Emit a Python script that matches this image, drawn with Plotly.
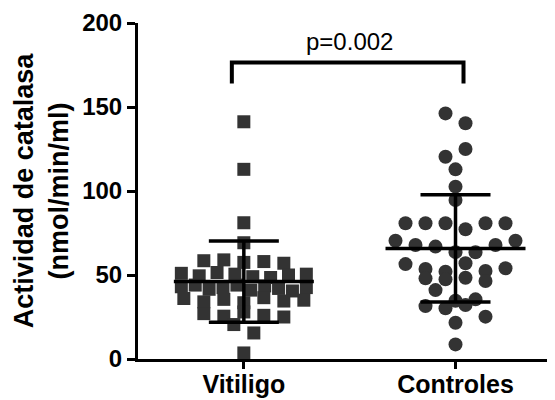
import plotly.graph_objects as go

# ---------------- data ----------------
categories = ["Vitiligo", "Controles"]

vitiligo = [141.2, 112.9, 81.1, 69.2,
            58.5, 59.0, 57.5, 58.0, 57.0,
            51.0, 49.5, 51.5, 50.5, 49.0, 48.5, 50.0, 50.5,
            43.0, 44.0, 41.5, 42.5, 44.0, 41.0, 43.5, 42.0, 40.5, 42.5,
            36.0, 34.0, 35.5, 33.5, 36.5, 34.5, 35.0,
            27.0, 25.5, 28.0, 26.0, 25.0,
            20.5, 15.5, 3.6]

controles = [146.2, 140.3, 120.4, 125.0, 112.9, 102.6, 94.6,
             80.8, 80.8, 80.8, 77.2, 80.8, 80.8,
             70.4, 67.9, 66.9, 63.6, 63.5, 67.9, 70.4,
             56.5, 53.6, 52.0, 57.0, 52.4, 54.0,
             48.0, 47.4, 48.4, 46.4,
             41.0,
             31.5, 34.7, 35.5, 30.2, 32.1,
             25.2, 21.6, 8.7]

group_means = [46.1, 65.8]
group_sds = [24.2, 31.9]

y_tickvals = [0, 50, 100, 150, 200]
p_text = "p=0.002"
bracket_high = 176.5
bracket_low = 164.0

# ---------------- layout / style constants ----------------
# the page body has an 8px default margin, so the figure is 8px smaller
W, H = 547, 392
M_L, M_R, M_T, M_B = 130, 0, 15, 41
X_RANGE = [-0.5, 1.47]
Y_RANGE = [0, 200]
PX_X = (W - M_L - M_R) / (X_RANGE[1] - X_RANGE[0])
PX_Y = (H - M_T - M_B) / (Y_RANGE[1] - Y_RANGE[0])

MARK_COLOR = "#333333"
FONT = "Liberation Sans, Arial, sans-serif"
MEAN_HALF_PX = 70
CAP_HALF_PX = 35
BRACKET_LEFT_PX = -12
BRACKET_RIGHT_PX = 8


def swarm_offsets(vals, tol=7.0, spacing_px=20.0, max_width_px=125.0):
    """Row-based scatter-dot layout (GraphPad-like): points whose values are
    close share a row and are spread symmetrically around the category."""
    order = sorted(range(len(vals)), key=lambda i: -vals[i])
    rows = []
    for i in order:
        if rows and vals[i] >= vals[rows[-1][0]] - tol:
            rows[-1].append(i)
        else:
            rows.append([i])
    off = [0.0] * len(vals)
    for r in rows:
        r = sorted(r)
        n = len(r)
        sp = spacing_px if n < 2 else min(spacing_px, max_width_px / (n - 1))
        for k, i in enumerate(r):
            off[i] = (k - (n - 1) / 2) * sp / PX_X
    return off


fig = go.Figure()

groups = [vitiligo, controles]
symbols = ["square", "circle"]
sizes = [13, 14]

for gi, vals in enumerate(groups):
    offs = swarm_offsets(vals)
    fig.add_trace(go.Scatter(
        x=[gi + o for o in offs], y=vals, mode="markers",
        marker=dict(symbol=symbols[gi], size=sizes[gi], color=MARK_COLOR,
                    line=dict(width=0)),
        cliponaxis=False, hoverinfo="skip"))

for gi in range(len(groups)):
    m, s = group_means[gi], group_sds[gi]
    mh = MEAN_HALF_PX / PX_X
    ch = CAP_HALF_PX / PX_X
    xs = [gi - mh, gi + mh, None,
          gi - ch, gi + ch, None,
          gi - ch, gi + ch, None,
          gi, gi]
    ys = [m, m, None,
          m + s, m + s, None,
          m - s, m - s, None,
          m - s, m + s]
    fig.add_trace(go.Scatter(x=xs, y=ys, mode="lines",
                             line=dict(color="black", width=3.5),
                             cliponaxis=False, hoverinfo="skip"))

bl = 0 + BRACKET_LEFT_PX / PX_X
br = 1 + BRACKET_RIGHT_PX / PX_X
fig.add_trace(go.Scatter(
    x=[bl, bl, br, br], y=[bracket_low, bracket_high, bracket_high, bracket_low],
    mode="lines", line=dict(color="black", width=4), cliponaxis=False,
    hoverinfo="skip"))

fig.add_annotation(x=0.5, y=bracket_high, text=p_text, showarrow=False,
                   xanchor="center", yanchor="bottom", yshift=5,
                   font=dict(family=FONT, size=24, color="black"))

fig.update_layout(
    width=W, height=H,
    margin=dict(l=M_L, r=M_R, t=M_T, b=M_B),
    paper_bgcolor="white", plot_bgcolor="white",
    showlegend=False,
    font=dict(family=FONT, color="black"),
    xaxis=dict(range=X_RANGE, showline=True, linewidth=3, linecolor="black",
               ticks="outside", ticklen=7, tickwidth=3, tickcolor="black",
               tickvals=[0, 1], ticktext=categories, ticklabelstandoff=-6,
               tickfont=dict(family=FONT, size=25, weight="bold", color="black"),
               showgrid=False, zeroline=False, automargin=False),
    yaxis=dict(range=Y_RANGE, showline=True, linewidth=3, linecolor="black",
               ticks="outside", ticklen=8, tickwidth=3, tickcolor="black",
               tickvals=y_tickvals,
               tickfont=dict(family=FONT, size=24, weight="bold", color="black"),
               showgrid=False, zeroline=False, automargin=False,
               title=dict(text="Actividad de catalasa<br>(nmol/min/ml)",
                          font=dict(family=FONT, size=27, weight="bold",
                                    color="black"),
                          standoff=6)),
)

fig.write_html("out.html")
